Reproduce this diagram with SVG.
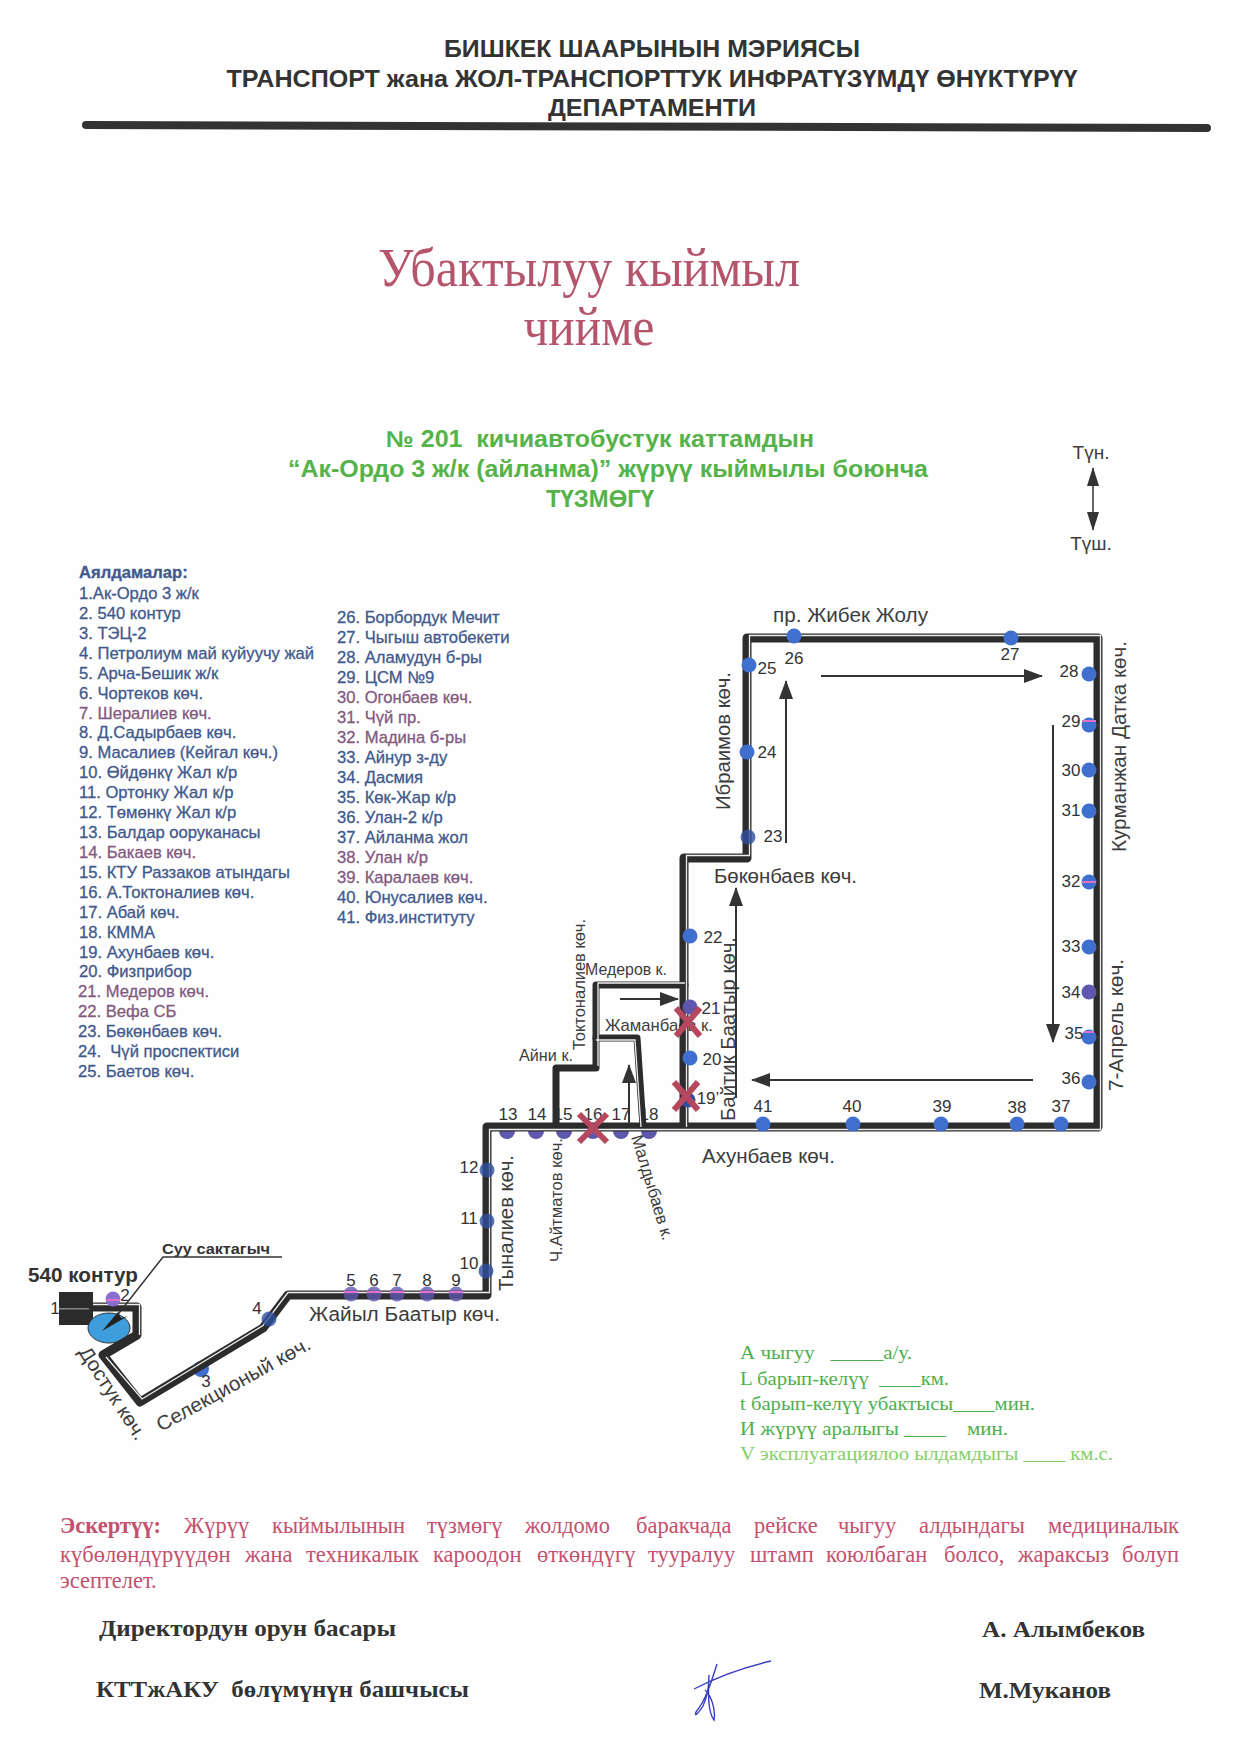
<svg xmlns="http://www.w3.org/2000/svg" width="1240" height="1755" viewBox="0 0 1240 1755">
<defs>
<marker id="ah" markerWidth="20" markerHeight="14" refX="18" refY="7" orient="auto" markerUnits="userSpaceOnUse"><path d="M0,0 L19,7 L0,14 Z" fill="#333"/></marker>
<marker id="ahs" markerWidth="20" markerHeight="12" refX="18" refY="6" orient="auto-start-reverse" markerUnits="userSpaceOnUse"><path d="M0,0 L19,6 L0,12 Z" fill="#333"/></marker>
</defs>
<style>
text{white-space:pre}
.s{font-family:"Liberation Sans",Arial,sans-serif}
.h{font-family:"Liberation Sans",Arial,sans-serif;font-weight:bold;font-size:24px;fill:#333;text-anchor:middle}
.t{font-family:"Liberation Serif","Times New Roman",serif;font-size:54px;fill:#b5556c;text-anchor:middle}
.g{font-family:"Liberation Sans",Arial,sans-serif;font-weight:bold;font-size:23px;fill:#55b349;text-anchor:middle}
.d{font-family:"Liberation Sans",Arial,sans-serif;font-size:20px;fill:#3d3d3d}
.d16{font-size:17px}
.li{font-family:"Liberation Sans",Arial,sans-serif;font-size:16.6px;fill:#41598c;stroke:#41598c;stroke-width:.3}
.m{fill:#83597f;stroke:#83597f}
.st{font-family:"Liberation Sans",Arial,sans-serif;font-size:17px;fill:#333;text-anchor:middle}
.road{fill:none;stroke:#2c2c2c;stroke-width:9;stroke-linejoin:round;stroke-linecap:round}
.gap{fill:none;stroke:#eee;stroke-width:1.3;stroke-linejoin:miter}
.dir{fill:none;stroke:#333;stroke-width:2;marker-end:url(#ah)}
.b{fill:#3f6fcf}
.p{fill:#5f57ad}
.u{fill:#2f4f9f}
.o{opacity:.8}
.stripe{stroke:#e070c8;stroke-width:2}
.x{stroke:#b5485f;stroke-width:6;stroke-linecap:butt}
.par{font-family:"Liberation Serif","Times New Roman",serif;font-size:19px;fill:#4eb04c}
.n{font-family:"Liberation Serif","Times New Roman",serif;font-size:22.5px;fill:#c4506e}
.sg{font-family:"Liberation Serif","Times New Roman",serif;font-weight:bold;font-size:23px;fill:#333}
</style>
<rect width="1240" height="1755" fill="#fefefe"/>

<g id="header">
<text class="h" x="652" y="57" textLength="416" lengthAdjust="spacingAndGlyphs">БИШКЕК ШААРЫНЫН МЭРИЯСЫ</text>
<text class="h" x="652" y="87" textLength="851" lengthAdjust="spacingAndGlyphs">ТРАНСПОРТ жана ЖОЛ-ТРАНСПОРТТУК ИНФРАТҮЗҮМДҮ ӨНҮКТҮРҮҮ</text>
<text class="h" x="652" y="116" textLength="208" lengthAdjust="spacingAndGlyphs">ДЕПАРТАМЕНТИ</text>
<path d="M86,125 L1207,128" stroke="#333" stroke-width="8" stroke-linecap="round"/>
</g>
<g id="title">
<text class="t" x="589" y="286" textLength="422" lengthAdjust="spacingAndGlyphs">Убактылуу кыймыл</text>
<text class="t" x="589" y="345" textLength="131" lengthAdjust="spacingAndGlyphs">чийме</text>
</g>
<g id="subtitle">
<text class="g" x="600" y="447" textLength="428" lengthAdjust="spacingAndGlyphs">№ 201  кичиавтобустук каттамдын</text>
<text class="g" x="608" y="477" textLength="640" lengthAdjust="spacingAndGlyphs">“Ак-Ордо 3 ж/к (айланма)” жүрүү кыймылы боюнча</text>
<text class="g" x="600" y="507" textLength="108" lengthAdjust="spacingAndGlyphs">ТҮЗМӨГҮ</text>
</g>
<g id="compass">
<text class="s" x="1091" y="459" font-size="19" fill="#3d3d3d" text-anchor="middle">Түн.</text>
<text class="s" x="1091" y="550" font-size="19" fill="#3d3d3d" text-anchor="middle">Түш.</text>
<path d="M1093,468 L1093,530" stroke="#333" stroke-width="1.5" fill="none" marker-start="url(#ahs)" marker-end="url(#ahs)"/>
</g>

<g id="legend">
<text class="li" x="79" y="578" font-weight="bold">Аялдамалар:</text>
<text class="li" x="79" y="599">1.Ак-Ордо 3 ж/к</text>
<text class="li" x="79" y="619">2. 540 контур</text>
<text class="li" x="79" y="639">3. ТЭЦ-2</text>
<text class="li" x="79" y="659">4. Петролиум май куйуучу жай</text>
<text class="li" x="79" y="679">5. Арча-Бешик ж/к</text>
<text class="li" x="79" y="699">6. Чортеков көч.</text>
<text class="li m" x="79" y="719">7. Шералиев көч.</text>
<text class="li" x="79" y="738">8. Д.Садырбаев көч.</text>
<text class="li" x="79" y="758">9. Масалиев (Кейгал көч.)</text>
<text class="li" x="79" y="778">10. Өйдөнкү Жал к/р</text>
<text class="li" x="79" y="798">11. Ортонку Жал к/р</text>
<text class="li" x="79" y="818">12. Төмөнкү Жал к/р</text>
<text class="li" x="79" y="838">13. Балдар ооруканасы</text>
<text class="li m" x="79" y="858">14. Бакаев көч.</text>
<text class="li" x="79" y="878">15. КТУ Раззаков атындагы</text>
<text class="li" x="79" y="898">16. А.Токтоналиев көч.</text>
<text class="li" x="79" y="918">17. Абай көч.</text>
<text class="li" x="79" y="938">18. КММА</text>
<text class="li" x="79" y="958">19. Ахунбаев көч.</text>
<text class="li" x="79" y="977">20. Физприбор</text>
<text class="li m" x="78" y="997">21. Медеров көч.</text>
<text class="li m" x="78" y="1017">22. Вефа СБ</text>
<text class="li" x="78" y="1037">23. Бөкөнбаев көч.</text>
<text class="li" x="78" y="1057">24.  Чүй проспектиси</text>
<text class="li" x="78" y="1077">25. Баетов көч.</text>
<text class="li" x="337" y="623">26. Борбордук Мечит</text>
<text class="li" x="337" y="643">27. Чыгыш автобекети</text>
<text class="li" x="337" y="663">28. Аламудун б-ры</text>
<text class="li" x="337" y="683">29. ЦСМ №9</text>
<text class="li m" x="337" y="703">30. Огонбаев көч.</text>
<text class="li m" x="337" y="723">31. Чүй пр.</text>
<text class="li m" x="337" y="743">32. Мадина б-ры</text>
<text class="li" x="337" y="763">33. Айнур з-ду</text>
<text class="li" x="337" y="783">34. Дасмия</text>
<text class="li" x="337" y="803">35. Көк-Жар к/р</text>
<text class="li" x="337" y="823">36. Улан-2 к/р</text>
<text class="li" x="337" y="843">37. Айланма жол</text>
<text class="li m" x="337" y="863">38. Улан к/р</text>
<text class="li m" x="337" y="883">39. Каралаев көч.</text>
<text class="li" x="337" y="903">40. Юнусалиев көч.</text>
<text class="li" x="337" y="923">41. Физ.институту</text>
</g>

<g id="street-labels">
<text class="d" x="773" y="622" textLength="155" lengthAdjust="spacingAndGlyphs">пр. Жибек Жолу</text>
<text class="d" transform="translate(730,810) rotate(-90)" textLength="138" lengthAdjust="spacingAndGlyphs">Ибраимов көч.</text>
<text class="d" transform="translate(1126,852) rotate(-90)" textLength="211" lengthAdjust="spacingAndGlyphs">Курманжан Датка көч.</text>
<text class="d" transform="translate(1123,1091) rotate(-90)" textLength="132" lengthAdjust="spacingAndGlyphs">7-Апрель көч.</text>
<text class="d" x="714" y="883" textLength="143" lengthAdjust="spacingAndGlyphs">Бөкөнбаев көч.</text>
<text class="d" transform="translate(735,1121) rotate(-90)" textLength="184" lengthAdjust="spacingAndGlyphs">Байтик Баатыр көч.</text>
<text class="d d16" transform="translate(585,1050) rotate(-90)" textLength="131" lengthAdjust="spacingAndGlyphs">Токтоналиев көч.</text>
<text class="d d16" x="585" y="975" textLength="82" lengthAdjust="spacingAndGlyphs">Медеров к.</text>
<text class="d d16" x="605" y="1031" textLength="108" lengthAdjust="spacingAndGlyphs">Жаманбаев к.</text>
<text class="d d16" x="519" y="1061" textLength="54" lengthAdjust="spacingAndGlyphs">Айни к.</text>
<text class="d" x="702" y="1163" textLength="133" lengthAdjust="spacingAndGlyphs">Ахунбаев көч.</text>
<text class="d" transform="translate(513,1291) rotate(-90)" textLength="136" lengthAdjust="spacingAndGlyphs">Тыналиев көч.</text>
<text class="d d16" transform="translate(562,1262) rotate(-90)" textLength="124" lengthAdjust="spacingAndGlyphs">Ч.Айтматов көч.</text>
<text class="d d16" transform="translate(631,1137) rotate(73)" textLength="109" lengthAdjust="spacingAndGlyphs">Малдыбаев к.</text>
<text class="d" x="309" y="1321" textLength="191" lengthAdjust="spacingAndGlyphs">Жайыл Баатыр көч.</text>
<text class="d" transform="translate(161,1432) rotate(-29)" textLength="173" lengthAdjust="spacingAndGlyphs">Селекционый көч.</text>
<text class="d" transform="translate(78,1352) rotate(57)" textLength="107" lengthAdjust="spacingAndGlyphs">Достук көч.</text>
<text class="s" x="28" y="1282" font-size="20" font-weight="bold" fill="#333" textLength="110" lengthAdjust="spacingAndGlyphs">540 контур</text>
<text class="s" x="162" y="1254" font-size="15" font-weight="bold" fill="#333" textLength="108" lengthAdjust="spacingAndGlyphs">Суу сактагыч</text>
</g>

<g id="stop-1"><rect x="59" y="1292" width="34" height="33" fill="#2b2b2b"/><rect x="59" y="1308" width="34" height="1.5" fill="#888"/><text class="st" x="55" y="1314">1</text></g>
<g id="reservoir"><ellipse cx="109" cy="1328" rx="21" ry="15" fill="#3d9ddd" stroke="#333"/></g>
<g id="stop-3"><circle class="b" cx="201" cy="1369" r="8"/><text class="st" x="206" y="1387">3</text></g>
<g id="stop-13"><circle class="p" cx="507" cy="1131" r="8"/><text class="st" x="508" y="1120">13</text></g>
<g id="stop-14"><circle class="p" cx="536" cy="1131" r="8"/><text class="st" x="537" y="1120">14</text></g>
<g id="stop-15"><circle class="p" cx="564" cy="1131" r="8"/><text class="st" x="563" y="1120">15</text></g>
<g id="stop-16"><circle class="p" cx="593" cy="1131" r="8"/><text class="st" x="593" y="1120">16</text></g>
<g id="stop-17"><circle class="p" cx="621" cy="1131" r="8"/><text class="st" x="621" y="1120">17</text></g>
<g id="stop-18"><circle class="p" cx="649" cy="1131" r="8"/><text class="st" x="649" y="1120">18</text></g>

<g id="connectors">
<path class="road" d="M93,1307 L137,1307 L137,1335 L103,1355 L140,1402 L263,1328 L288,1295 L487,1295 L487,1127 L1098,1127 L1098,638 L747,638 L747,858 L684,858 L684,1127"/>
<path class="road" d="M556,1127 L556,1068 L596,1068 L596,985 L685,985" style="stroke-width:7"/>
<path class="road" d="M596,1038 L637,1038 L643,1127" style="stroke-width:7"/>
<path class="gap" d="M93,1304.500 L139.500,1304.500 L139.500,1335 M106,1357 L142,1399 L263,1325.500 L288,1292.500 L489.500,1292.500 L489.500,1129.500 L1100.500,1129.500 L1100.500,635.500 L749.500,635.500 L749.500,855.500 L686.500,855.500 L686.500,1127"/>
<path class="gap" d="M598,1066 L598,983 L685,983 M596,1040 L635,1040 L641,1127"/>
<path d="M108,1327 L163,1257 L282,1257" fill="none" stroke="#333" stroke-width="1.5"/>
<path d="M102,1331 L118,1312 L121,1318 L128,1316 Z" fill="#222"/>
<path class="dir" d="M821,676 L1042,676"/>
<path class="dir" d="M786,843 L786,681"/>
<path class="dir" d="M736,1098 L736,888"/>
<path class="dir" d="M1053,725 L1053,1042"/>
<path class="dir" d="M1033,1080 L752,1080"/>
<path class="dir" d="M620,999 L678,999"/>
<path class="dir" d="M629,1124 L629,1065"/>
</g>

<g id="stop-2"><circle cx="113" cy="1299" r="7.500" fill="#8a6fd0"/><path class="stripe" d="M106,1300 L120,1300"/><text class="st" x="125" y="1301">2</text></g>
<g id="stop-4"><circle class="u o" cx="269" cy="1319" r="7.500"/><text class="st" x="257" y="1314">4</text></g>
<g id="stop-5"><circle class="p o" cx="351" cy="1294" r="7.500"/><path class="stripe" d="M344,1292 L358,1292"/><text class="st" x="351" y="1286">5</text></g>
<g id="stop-6"><circle class="p o" cx="374" cy="1294" r="7.500"/><path class="stripe" d="M367,1292 L381,1292"/><text class="st" x="374" y="1286">6</text></g>
<g id="stop-7"><circle class="p o" cx="397" cy="1294" r="7.500"/><path class="stripe" d="M390,1292 L404,1292"/><text class="st" x="397" y="1286">7</text></g>
<g id="stop-8"><circle class="p o" cx="427" cy="1294" r="7.500"/><path class="stripe" d="M420,1292 L434,1292"/><text class="st" x="427" y="1286">8</text></g>
<g id="stop-9"><circle class="p o" cx="456" cy="1294" r="7.500"/><path class="stripe" d="M449,1292 L463,1292"/><text class="st" x="456" y="1286">9</text></g>
<g id="stop-10"><circle class="u o" cx="486" cy="1271" r="7.500"/><text class="st" x="469" y="1269">10</text></g>
<g id="stop-11"><circle class="u o" cx="487" cy="1221" r="7.500"/><text class="st" x="469" y="1224">11</text></g>
<g id="stop-12"><circle class="u o" cx="487" cy="1170" r="7.500"/><text class="st" x="469" y="1173">12</text></g>
<g id="stop-19"><circle class="u" cx="688" cy="1100" r="7.500"/><text class="st" x="708" y="1104">19’</text></g>
<g id="stop-20"><circle class="b" cx="690" cy="1058" r="7.500"/><text class="st" x="712" y="1065">20</text></g>
<g id="stop-21"><circle class="p" cx="690" cy="1007" r="7.500"/><text class="st" x="711" y="1014">21</text></g>
<g id="stop-22"><circle class="b" cx="690" cy="936" r="7.500"/><text class="st" x="713" y="943">22</text></g>
<g id="stop-23"><circle class="u o" cx="748" cy="837" r="7.500"/><text class="st" x="773" y="842">23</text></g>
<g id="stop-24"><circle class="b" cx="747" cy="752" r="7.500"/><text class="st" x="767" y="758">24</text></g>
<g id="stop-25"><circle class="b" cx="749" cy="665" r="7.500"/><text class="st" x="767" y="674">25</text></g>
<g id="stop-26"><circle class="b" cx="794" cy="636" r="7.500"/><text class="st" x="794" y="664">26</text></g>
<g id="stop-27"><circle class="b" cx="1011" cy="638" r="7.500"/><text class="st" x="1010" y="660">27</text></g>
<g id="stop-28"><circle class="b" cx="1089" cy="674" r="7.500"/><text class="st" x="1069" y="677">28</text></g>
<g id="stop-29"><circle class="b" cx="1089" cy="725" r="7.500"/><path class="stripe" d="M1082,721 L1096,721"/><text class="st" x="1071" y="727">29</text></g>
<g id="stop-30"><circle class="b" cx="1089" cy="770" r="7.500"/><text class="st" x="1071" y="776">30</text></g>
<g id="stop-31"><circle class="b" cx="1089" cy="811" r="7.500"/><text class="st" x="1071" y="816">31</text></g>
<g id="stop-32"><circle class="b" cx="1089" cy="882" r="7.500"/><path class="stripe" d="M1082,882 L1096,882"/><text class="st" x="1071" y="887">32</text></g>
<g id="stop-33"><circle class="b" cx="1089" cy="947" r="7.500"/><text class="st" x="1071" y="952">33</text></g>
<g id="stop-34"><circle class="p" cx="1089" cy="992" r="7.500"/><text class="st" x="1071" y="998">34</text></g>
<g id="stop-35"><circle class="b" cx="1089" cy="1037" r="7.500"/><path class="stripe" d="M1084,1032 L1094,1032"/><text class="st" x="1074" y="1039">35</text></g>
<g id="stop-36"><circle class="b" cx="1089" cy="1082" r="7.500"/><text class="st" x="1071" y="1084">36</text></g>
<g id="stop-37"><circle class="b" cx="1061" cy="1124" r="7.500"/><text class="st" x="1061" y="1112">37</text></g>
<g id="stop-38"><circle class="b" cx="1017" cy="1124" r="7.500"/><text class="st" x="1017" y="1113">38</text></g>
<g id="stop-39"><circle class="b" cx="941" cy="1124" r="7.500"/><text class="st" x="942" y="1112">39</text></g>
<g id="stop-40"><circle class="b" cx="853" cy="1124" r="7.500"/><text class="st" x="852" y="1112">40</text></g>
<g id="stop-41"><circle class="b" cx="763" cy="1124" r="7.500"/><text class="st" x="763" y="1112">41</text></g>

<g id="closures">
<path class="x" d="M676,1008 L700,1036 M700,1008 L676,1036"/>
<path class="x" d="M674,1082 L698,1110 M698,1082 L674,1110"/>
<path class="x" d="M579,1114 L607,1142 M607,1114 L579,1142"/>
</g>

<g id="parameters">
<text class="par" x="740" y="1359" textLength="172" lengthAdjust="spacingAndGlyphs">А чыгуу   _____а/у.</text>
<text class="par" x="740" y="1385" textLength="209" lengthAdjust="spacingAndGlyphs">L барып-келүү  ____км.</text>
<text class="par" x="740" y="1410" textLength="295" lengthAdjust="spacingAndGlyphs">t барып-келүү убактысы____мин.</text>
<text class="par" x="740" y="1435" textLength="268" lengthAdjust="spacingAndGlyphs">И жүрүү аралыгы ____    мин.</text>
<text class="par" x="740" y="1460" textLength="373" lengthAdjust="spacingAndGlyphs" style="fill:#86cf68">V эксплуатациялоо ылдамдыгы ____ км.с.</text>
</g>

<g id="note">
<text class="n" y="1533"><tspan x="60" font-weight="bold">Эскертүү:</tspan><tspan x="184">Жүрүү</tspan><tspan x="272">кыймылынын</tspan><tspan x="427">түзмөгү</tspan><tspan x="525">жолдомо</tspan><tspan x="636">баракчада</tspan><tspan x="754">рейске</tspan><tspan x="838">чыгуу</tspan><tspan x="919">алдындагы</tspan><tspan x="1048">медициналык</tspan></text>
<text class="n" y="1562"><tspan x="60">күбөлөндүрүүдөн</tspan><tspan x="245">жана</tspan><tspan x="306">техникалык</tspan><tspan x="433">кароодон</tspan><tspan x="537">өткөндүгү</tspan><tspan x="648">тууралуу</tspan><tspan x="750">штамп</tspan><tspan x="826">коюлбаган</tspan><tspan x="944">болсо,</tspan><tspan x="1018">жараксыз</tspan><tspan x="1122">болуп</tspan></text>
<text class="n" x="60" y="1588">эсептелет.</text>
</g>

<g id="signatures">
<text class="sg" x="99" y="1636" textLength="297" lengthAdjust="spacingAndGlyphs">Директордун орун басары</text>
<text class="sg" x="982" y="1637" textLength="163" lengthAdjust="spacingAndGlyphs">А. Алымбеков</text>
<text class="sg" x="96" y="1697" textLength="373" lengthAdjust="spacingAndGlyphs">КТТжАКУ  бөлүмүнүн башчысы</text>
<text class="sg" x="979" y="1698" textLength="132" lengthAdjust="spacingAndGlyphs">М.Муканов</text>
<path d="M771,1661 C745,1667 715,1678 694,1689 M717,1664 C712,1680 706,1700 696,1712 C694,1717 698,1714 703,1706 C708,1695 709,1683 709,1675 C708,1695 708,1712 714,1720 C716,1710 711,1695 705,1690" fill="none" stroke="#3a3fc0" stroke-width="1.4"/>
</g>
</svg>
